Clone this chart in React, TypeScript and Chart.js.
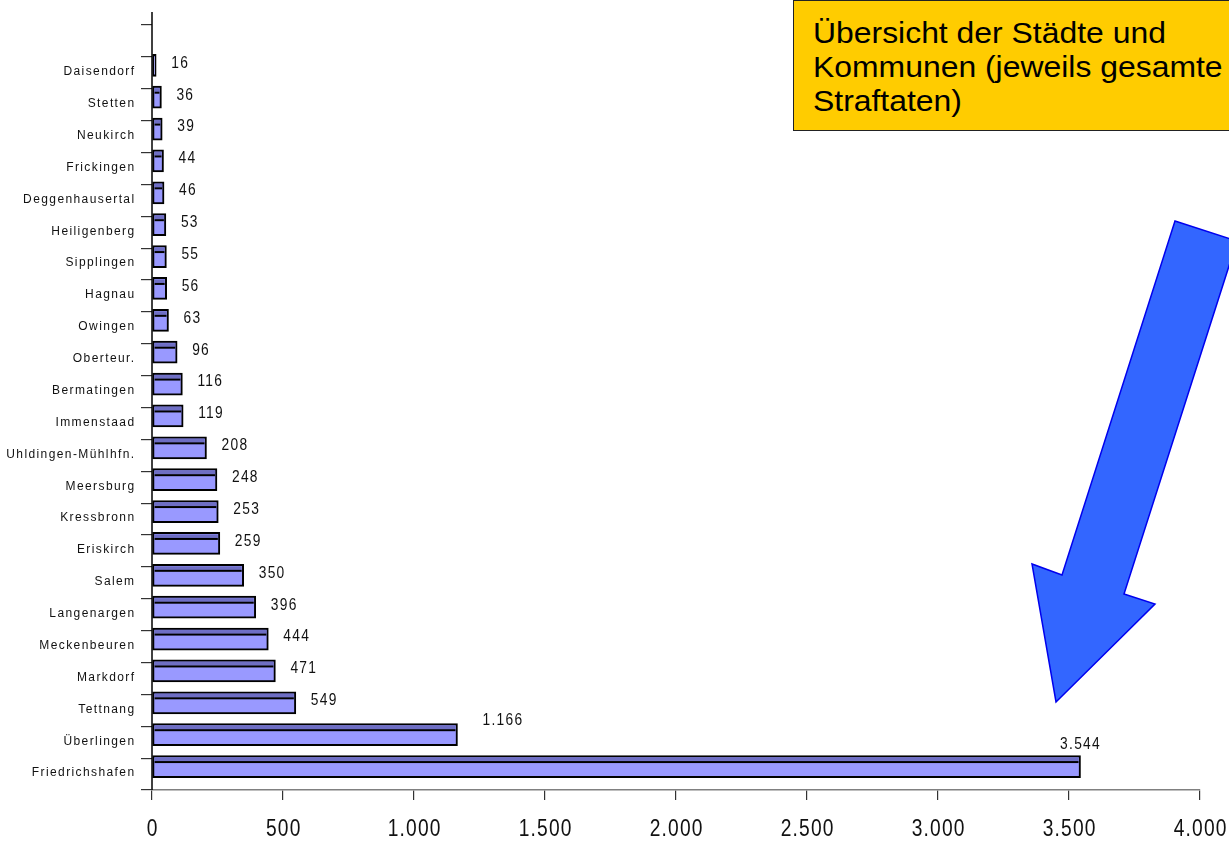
import React, { useEffect, useRef } from 'react';
import { Chart, registerables } from 'chart.js';

Chart.register(...registerables);

const categories = [
  'Daisendorf', 'Stetten', 'Neukirch', 'Frickingen', 'Deggenhausertal', 'Heiligenberg',
  'Sipplingen', 'Hagnau', 'Owingen', 'Oberteur.', 'Bermatingen', 'Immenstaad',
  'Uhldingen-Mühlhfn.', 'Meersburg', 'Kressbronn', 'Eriskirch', 'Salem', 'Langenargen',
  'Meckenbeuren', 'Markdorf', 'Tettnang', 'Überlingen', 'Friedrichshafen',
];
const values = [16, 36, 39, 44, 46, 53, 55, 56, 63, 96, 116, 119, 208, 248, 253, 259, 350, 396, 444, 471, 549, 1166, 3544];
const xTickValues = [0, 500, 1000, 1500, 2000, 2500, 3000, 3500, 4000];
const boxTitle = ['Übersicht der Städte und', 'Kommunen (jeweils gesamte', 'Straftaten)'];

const fmt = (n: number) => String(n).replace(/\B(?=(\d{3})+(?!\d))/g, '.');

const BAR_SHIFT = -7.5;
const SANS = '"Liberation Sans", Arial, sans-serif';

// draw horizontally condensed text
function drawCondensed(ctx: any, txt: string, x: number, y: number, sx: number, align: string) {
  const w = ctx.measureText(txt).width * sx;
  let left = x;
  if (align === 'center') left = x - w / 2;
  else if (align === 'right') left = x - w;
  ctx.save();
  ctx.translate(left, y);
  ctx.scale(sx, 1);
  ctx.textAlign = 'left';
  ctx.fillText(txt, 0, 0);
  ctx.restore();
}

const decor = {
  id: 'decor',
  beforeDatasetsDraw(chart: any) {
    const ctx = chart.ctx;
    const area = chart.chartArea;
    ctx.save();
    ctx.strokeStyle = '#000';
    ctx.lineWidth = 1.5;
    ctx.beginPath();
    ctx.moveTo(area.left, 12);
    ctx.lineTo(area.left, area.bottom);
    ctx.stroke();
    ctx.restore();
    ctx.save();
    ctx.translate(0, BAR_SHIFT);
  },
  afterDatasetsDraw(chart: any) {
    const ctx = chart.ctx;
    const meta = chart.getDatasetMeta(0);
    const data = chart.data.datasets[0].data;
    meta.data.forEach((el: any, i: number) => {
      if (data[i] == null) return;
      const { x, y, base, height } = el.getProps(['x', 'y', 'base', 'height'], true);
      const top = y - height / 2;
      const l = base + 2;
      const r = x - 2;
      if (r > l) {
        ctx.fillStyle = '#6e6ec4';
        ctx.fillRect(l, top + 2, r - l, 3.5);
        ctx.fillStyle = '#000';
        ctx.fillRect(l, top + 5.5, r - l, 2);
      }
    });
    ctx.restore();

    // value labels
    const area = chart.chartArea;
    ctx.save();
    ctx.font = '16px ' + SANS;
    (ctx as any).letterSpacing = '1.5px';
    ctx.fillStyle = '#111';
    ctx.textBaseline = 'middle';
    const SX = 0.86;
    meta.data.forEach((el: any, i: number) => {
      const v = data[i];
      if (v == null) return;
      const { x, y, height } = el.getProps(['x', 'y', 'height'], true);
      const cy = y + BAR_SHIFT;
      const txt = fmt(v);
      const w = ctx.measureText(txt).width * SX;
      if (v >= 1000) {
        const top = cy - height / 2;
        if (x + 25 + w > area.right - 80) {
          drawCondensed(ctx, txt, x, top - 11, SX, 'center');
        } else {
          drawCondensed(ctx, txt, x + 25, top - 3, SX, 'left');
        }
      } else {
        drawCondensed(ctx, txt, x + 15, cy - 2, SX, 'left');
      }
    });
    ctx.restore();
  },
  afterDraw(chart: any) {
    const ctx = chart.ctx;
    const yScale = chart.scales.y;
    const xScale = chart.scales.x;
    const labels = chart.data.labels;
    ctx.save();
    ctx.font = '12px ' + SANS;
    (ctx as any).letterSpacing = '1.4px';
    ctx.fillStyle = '#111';
    ctx.textAlign = 'right';
    ctx.textBaseline = 'middle';
    labels.forEach((lab: string, i: number) => {
      if (!lab) return;
      const py = yScale.getPixelForValue(i);
      ctx.fillText(lab, 135.5, py - 1);
    });
    ctx.font = '24px ' + SANS;
    (ctx as any).letterSpacing = '1.5px';
    xTickValues.forEach((v) => {
      const px = xScale.getPixelForValue(v);
      drawCondensed(ctx, fmt(v), px + 0.7, 829, 0.8, 'center');
    });
    ctx.restore();
  },
};

export default function App() {
  const ref = useRef<HTMLCanvasElement>(null);
  useEffect(() => {
    if (!ref.current) return;
    const chart = new Chart(ref.current, {
      type: 'bar',
      data: {
        labels: ['', ...categories],
        datasets: [
          {
            data: [null, ...values],
            backgroundColor: '#9999FF',
            borderColor: '#000',
            borderWidth: 2,
            borderSkipped: false,
            barThickness: 22,
            clip: false,
          } as any,
        ],
      },
      options: {
        indexAxis: 'y',
        responsive: false,
        animation: false,
        events: [],
        layout: { padding: { left: 0, top: 25, right: 29, bottom: 0 } },
        plugins: { legend: { display: false }, tooltip: { enabled: false } },
        scales: {
          y: {
            type: 'category',
            offset: true,
            grid: { offset: true, drawOnChartArea: false, drawTicks: true, tickLength: 11, color: '#333', lineWidth: 1.2 },
            border: { display: false },
            ticks: { display: false },
            afterFit: (s: any) => {
              s.width = 152;
              s.paddingTop = 0;
              s.paddingBottom = 0;
            },
          },
          x: {
            type: 'linear',
            min: 0,
            max: 4000,
            grid: { drawOnChartArea: false, drawTicks: true, tickLength: 10, color: '#333', lineWidth: 1.2 },
            border: { display: true, color: '#808080', width: 1.5 },
            ticks: { display: false, stepSize: 500 },
            afterBuildTicks: (s: any) => {
              s.ticks = xTickValues.map((v) => ({ value: v }));
            },
            afterFit: (s: any) => {
              s.height = 51;
              s.paddingLeft = 0;
              s.paddingRight = 0;
            },
          },
        },
      },
      plugins: [decor],
    } as any);
    return () => chart.destroy();
  }, []);

  return (
    <div style={{ position: 'fixed', left: 0, top: 0, width: 1229, height: 841, overflow: 'hidden', background: '#fff' }}>
      <canvas ref={ref} width={1229} height={841} style={{ position: 'absolute', left: 0, top: 0 }} />
      <div
        style={{
          position: 'absolute',
          left: 793,
          top: 0,
          width: 470,
          height: 131,
          boxSizing: 'border-box',
          border: '1.5px solid #222',
          background: '#FFCC00',
        }}
      >
        <div
          style={{
            position: 'absolute',
            left: 19,
            top: 15,
            fontFamily: SANS,
            fontSize: 29,
            lineHeight: '34px',
            color: '#000',
            whiteSpace: 'nowrap',
            transform: 'scaleX(1.1)',
            transformOrigin: 'left top',
          }}
        >
          {boxTitle.map((t, i) => (
            <div key={i}>{t}</div>
          ))}
        </div>
      </div>
      <svg width={1229} height={841} style={{ position: 'absolute', left: 0, top: 0, pointerEvents: 'none' }}>
        <polygon
          points="1175,221 1237,241 1124,594 1155,604 1056,702 1032,564 1062,575"
          fill="#3366FF"
          stroke="#0000EE"
          strokeWidth={1.5}
        />
      </svg>
    </div>
  );
}
